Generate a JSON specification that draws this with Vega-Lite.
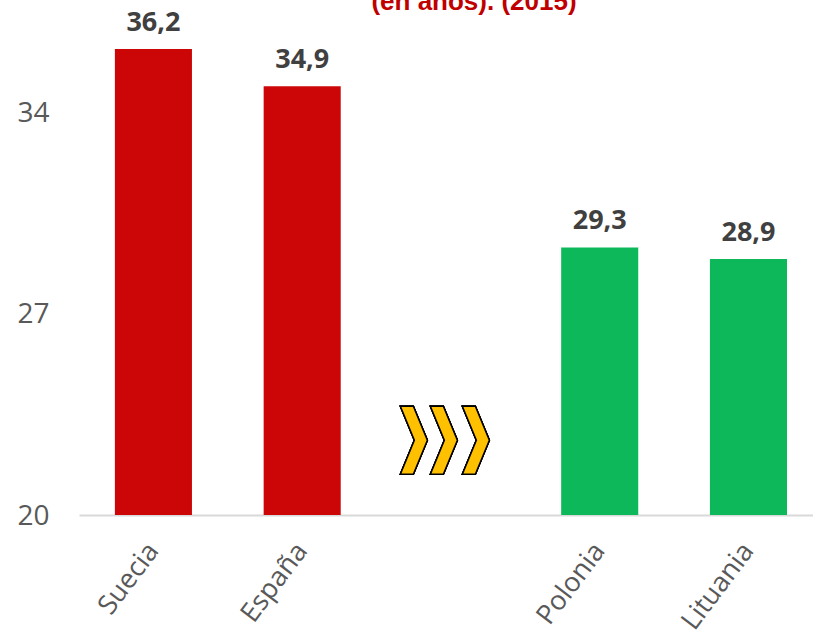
{
  "$schema": "https://vega.github.io/schema/vega-lite/v6.json",
  "autosize": {"type": "none"},
  "width": 734,
  "height": 515,
  "padding": {"left": 79, "top": 0, "right": 0, "bottom": 122},
  "background": "white",
  "title": {
    "text": "(en años). (2015)",
    "font": "Liberation Sans",
    "fontSize": 26,
    "fontWeight": "bold",
    "color": "#C00000",
    "anchor": "middle",
    "frame": "group",
    "offset": 0,
    "dx": 28,
    "dy": 15
  },
  "data": {
    "values": [
      {"pais": "Suecia", "valor": 36.2, "etiqueta": "36,2", "grupo": "alto"},
      {"pais": "España", "valor": 34.9, "etiqueta": "34,9", "grupo": "alto"},
      {"pais": "Polonia", "valor": 29.3, "etiqueta": "29,3", "grupo": "bajo"},
      {"pais": "Lituania", "valor": 28.9, "etiqueta": "28,9", "grupo": "bajo"}
    ]
  },
  "encoding": {
    "x": {
      "field": "pais",
      "type": "nominal",
      "sort": null,
      "scale": {"domain": ["Suecia", "España", " ", "Polonia", "Lituania"], "paddingInner": 0.482, "paddingOuter": 0.208, "align": 0.58},
      "axis": {
        "title": null,
        "labelAngle": -53,
        "labelAlign": "right",
        "labelBaseline": "middle",
        "labelPadding": 31,
        "labelFont": "Open Sans",
        "labelFontSize": 27,
        "labelColor": "#595959",
        "ticks": false,
        "domainColor": "#D9D9D9",
        "domainWidth": 2,
        "grid": false
      }
    },
    "y": {
      "field": "valor",
      "type": "quantitative",
      "scale": {"domain": [20, 37.9], "nice": false, "zero": false},
      "axis": {
        "title": null,
        "values": [20, 27, 34],
        "domain": false,
        "ticks": false,
        "grid": false,
        "labelPadding": 30,
        "labelOffset": 1,
        "labelFont": "Open Sans",
        "labelFontSize": 28,
        "labelColor": "#595959"
      }
    }
  },
  "layer": [
    {
      "mark": {"type": "bar"},
      "encoding": {
        "y2": {"datum": 20},
        "color": {
          "field": "grupo",
          "type": "nominal",
          "scale": {"domain": ["alto", "bajo"], "range": ["#CC0606", "#0CB85A"]},
          "legend": null
        }
      }
    },
    {
      "mark": {"type": "text", "font": "Open Sans", "fontSize": 27, "fontWeight": "bold", "color": "#404040", "baseline": "alphabetic", "dy": -18},
      "encoding": {"text": {"field": "etiqueta"}}
    },
    {
      "mark": {
        "type": "point",
        "filled": true,
        "fill": "#FFC000",
        "stroke": "#000000",
        "strokeWidth": 1.5,
        "opacity": 1,
        "size": 7744,
        "shape": "M-1.15,-0.773 L-0.855,-0.773 L-0.536,0 L-0.855,0.773 L-1.15,0.773 L-0.832,0 Z M-0.468,-0.773 L-0.173,-0.773 L0.146,0 L-0.173,0.773 L-0.468,0.773 L-0.15,0 Z M0.259,-0.773 L0.554,-0.773 L0.873,0 L0.554,0.773 L0.259,0.773 L0.577,0 Z"
      },
      "encoding": {
        "x": {"datum": " "},
        "y": {"datum": 22.6}
      }
    }
  ],
  "config": {"view": {"stroke": null}}
}
